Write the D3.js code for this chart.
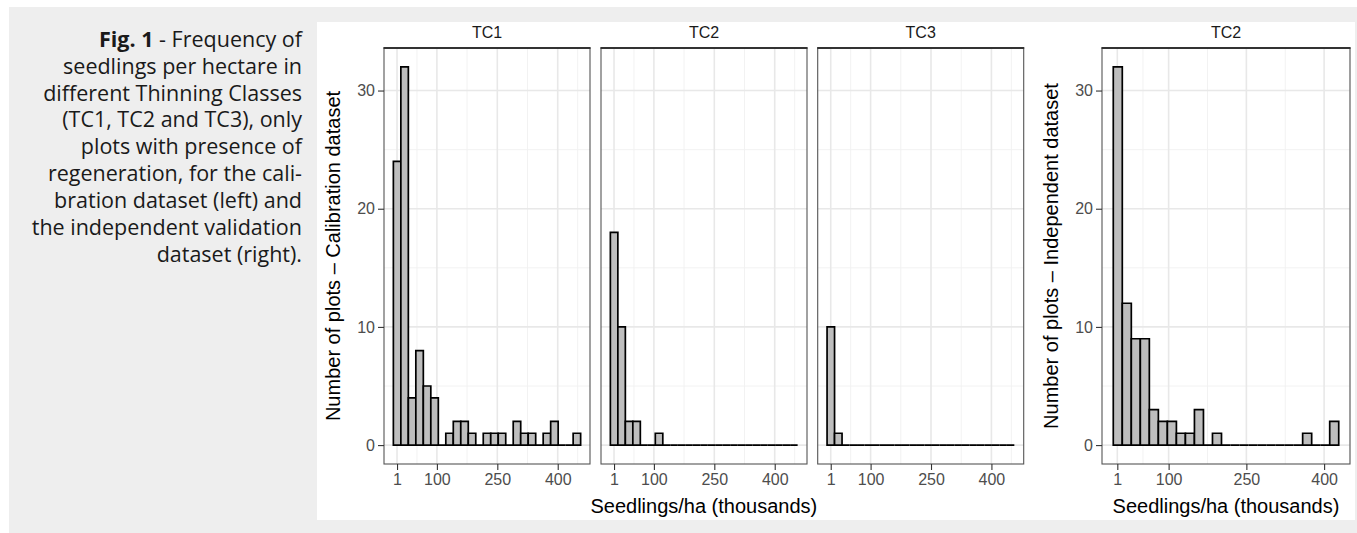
<!DOCTYPE html>
<html>
<head>
<meta charset="utf-8">
<script src="https://cdn.jsdelivr.net/npm/d3@7/dist/d3.min.js"></script>
<style>
  html, body { margin: 0; padding: 0; background: #ffffff; }
  svg { display: block; }
</style>
</head>
<body>
<svg id="chart" width="1357" height="533"></svg>
<script>
// ---------------- data ----------------
const xTickValues = [1, 100, 250, 400];
const xTickLabels = ["1", "100", "250", "400"];
const yTickValues = [0, 10, 20, 30];

const calibrationPanels = ["TC1", "TC2", "TC3"];
const independentPanels = ["TC2"];

// histogram bins (thousand seedlings/ha)
const calBinStart = -8.1;
const calBinWidth = 18.6;
const indBinStart = -6.8;
const indBinWidth = 17.4;

// counts per bin (number of plots)
const calTC1 = [24, 32, 4, 8, 5, 4, 0, 1, 2, 2, 1, 0, 1, 1, 1, 0, 2, 1, 1, 0, 1, 2, 0, 0, 1];
const calTC2 = [18, 10, 2, 2, 0, 0, 1, 0, 0, 0, 0, 0, 0, 0, 0, 0, 0, 0, 0, 0, 0, 0, 0, 0, 0];
const calTC3 = [10, 1, 0, 0, 0, 0, 0, 0, 0, 0, 0, 0, 0, 0, 0, 0, 0, 0, 0, 0, 0, 0, 0, 0, 0];
const indTC2 = [32, 12, 9, 9, 3, 2, 2, 1, 1, 3, 0, 1, 0, 0, 0, 0, 0, 0, 0, 0, 0, 1, 0, 0, 2];

const calCounts = [calTC1, calTC2, calTC3];
const indCounts = [indTC2];

const captionBold = "Fig. 1";
const captionLines = [
  " - Frequency of",
  "seedlings per hectare in",
  "different Thinning Classes",
  "(TC1, TC2 and TC3), only",
  "plots with presence of",
  "regeneration, for the cali-",
  "bration dataset (left) and",
  "the independent validation",
  "dataset (right)."
];
const calYTitle = "Number of plots \u2013 Calibration dataset";
const indYTitle = "Number of plots \u2013  Independent dataset";
const xTitle = "Seedlings/ha (thousands)";

// ---------------- drawing ----------------
const svg = d3.select("#chart");
const FONT = "'Liberation Sans', Arial, sans-serif";

// backgrounds
svg.append("rect").attr("x", 9).attr("y", 7).attr("width", 1348).attr("height", 526).attr("fill", "#eeeeee");
svg.append("rect").attr("x", 317).attr("y", 22).attr("width", 1038).attr("height", 498).attr("fill", "#ffffff");

// caption
const cap = svg.append("text")
  .attr("font-family", "'Open Sans', 'Noto Sans', sans-serif")
  .attr("font-size", 21.5)
  .attr("fill", "#1a1a1a")
  .attr("text-anchor", "end");
captionLines.forEach((line, i) => {
  const t = cap.append("tspan").attr("x", 302).attr("y", 46.7 + i * 26.9);
  if (i === 0) {
    t.append("tspan").attr("font-weight", "bold").text(captionBold);
    t.append("tspan").text(line);
  } else {
    t.text(line);
  }
});

const panelTop = 48, panelBottom = 464;
const yScale = d3.scaleLinear().domain([-1.6, 33.6]).range([panelBottom, panelTop]);

function minorBreaks(b, lo, hi) {
  const bd = b[1] - b[0];
  const ext = [b[0] - bd, ...b, b[b.length - 1] + bd];
  const out = [];
  for (let i = 0; i < ext.length - 1; i++) {
    const m = (ext[i] + ext[i + 1]) / 2;
    if (m > lo && m < hi) out.push(m);
  }
  return out;
}

function drawChart(panelNames, counts, binStart, binWidth, panelX, panelW, showYAxisIdx, yTitle, yTitleX) {
  const nb = counts[0].length;
  const binEnd = binStart + nb * binWidth;
  const pad = 0.05 * (binEnd - binStart);
  const x = d3.scaleLinear().domain([binStart - pad, binEnd + pad]).range([0, panelW]);
  const xMinor = minorBreaks(xTickValues, x.domain()[0], x.domain()[1]);
  const yMinor = minorBreaks(yTickValues, yScale.domain()[0], yScale.domain()[1]);

  panelNames.forEach((name, pi) => {
    const g = svg.append("g").attr("transform", `translate(${panelX[pi]},0)`);
    g.append("rect").attr("x", 0).attr("y", panelTop).attr("width", panelW)
      .attr("height", panelBottom - panelTop).attr("fill", "#ffffff");

    // minor grid
    g.selectAll(".vminor").data(xMinor).enter().append("line")
      .attr("x1", d => x(d)).attr("x2", d => x(d))
      .attr("y1", panelTop).attr("y2", panelBottom)
      .attr("stroke", "#f0f0f0").attr("stroke-width", 0.9);
    g.selectAll(".hminor").data(yMinor).enter().append("line")
      .attr("x1", 0).attr("x2", panelW)
      .attr("y1", d => yScale(d)).attr("y2", d => yScale(d))
      .attr("stroke", "#f0f0f0").attr("stroke-width", 0.9);
    // major grid
    g.selectAll(".vmajor").data(xTickValues).enter().append("line")
      .attr("x1", d => x(d)).attr("x2", d => x(d))
      .attr("y1", panelTop).attr("y2", panelBottom)
      .attr("stroke", "#e8e8e8").attr("stroke-width", 1.6);
    g.selectAll(".hmajor").data(yTickValues).enter().append("line")
      .attr("x1", 0).attr("x2", panelW)
      .attr("y1", d => yScale(d)).attr("y2", d => yScale(d))
      .attr("stroke", "#e8e8e8").attr("stroke-width", 1.6);

    // bars (paths so that empty bins still draw their outline on the baseline)
    g.selectAll(".bar").data(counts[pi]).enter().append("path")
      .attr("d", (d, i) => {
        const x0 = x(binStart + i * binWidth), x1 = x(binStart + (i + 1) * binWidth);
        const y0 = yScale(0), y1 = yScale(d);
        return `M${x0},${y0}V${y1}H${x1}V${y0}Z`;
      })
      .attr("fill", "#bebebe")
      .attr("stroke", "#000000")
      .attr("stroke-width", 1.7)
      .attr("stroke-linejoin", "miter");

    // border
    g.append("rect").attr("x", 0).attr("y", panelTop).attr("width", panelW)
      .attr("height", panelBottom - panelTop)
      .attr("fill", "none").attr("stroke", "#555555").attr("stroke-width", 1.1);
    g.append("line").attr("x1", -0.5).attr("x2", panelW + 0.5)
      .attr("y1", panelTop).attr("y2", panelTop)
      .attr("stroke", "#333333").attr("stroke-width", 2);

    // strip label
    g.append("text").attr("x", panelW / 2).attr("y", 38)
      .attr("text-anchor", "middle").attr("font-family", FONT)
      .attr("font-size", 16).attr("fill", "#1a1a1a").text(name);

    // x axis
    const xa = g.append("g").attr("transform", `translate(0,${panelBottom})`)
      .call(d3.axisBottom(x).tickValues(xTickValues)
        .tickFormat((d, i) => xTickLabels[i]).tickSize(6).tickPadding(4));
    xa.select(".domain").remove();
    xa.selectAll(".tick line").attr("stroke", "#333333").attr("stroke-width", 1.1);
    xa.selectAll(".tick text").attr("fill", "#4d4d4d").attr("font-family", FONT).attr("font-size", 16);

    if (pi === showYAxisIdx) {
      const ya = g.append("g")
        .call(d3.axisLeft(yScale).tickValues(yTickValues).tickSize(6).tickPadding(3));
      ya.select(".domain").remove();
      ya.selectAll(".tick line").attr("stroke", "#333333").attr("stroke-width", 1.1);
      ya.selectAll(".tick text").attr("fill", "#4d4d4d").attr("font-family", FONT).attr("font-size", 16);
    }
  });

  // y title
  const yc = (panelTop + panelBottom) / 2;
  svg.append("text")
    .attr("transform", `translate(${yTitleX},${yc}) rotate(-90)`)
    .attr("text-anchor", "middle").attr("font-family", FONT)
    .attr("font-size", 20).attr("fill", "#000000").text(yTitle);

  // x title
  const left = panelX[0], right = panelX[panelX.length - 1] + panelW;
  svg.append("text")
    .attr("x", (left + right) / 2).attr("y", 513)
    .attr("text-anchor", "middle").attr("font-family", FONT)
    .attr("font-size", 20).attr("fill", "#000000").text(xTitle);
}

drawChart(calibrationPanels, calCounts, calBinStart, calBinWidth, [384, 601, 817.7], 206, 0, calYTitle, 340);
drawChart(independentPanels, indCounts, indBinStart, indBinWidth, [1102], 248, 0, indYTitle, 1058);
</script>
</body>
</html>
